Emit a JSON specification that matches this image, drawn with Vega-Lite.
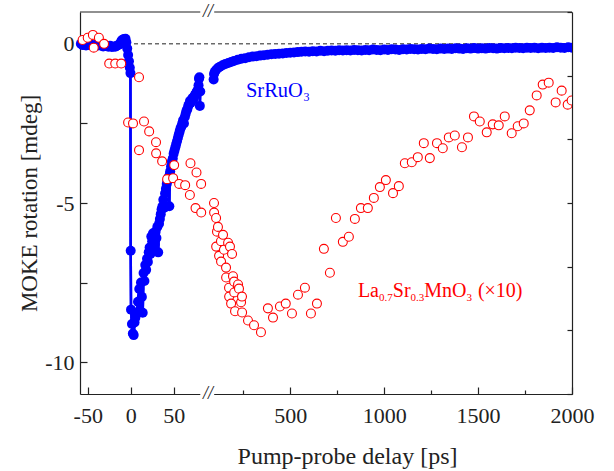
{
"$schema":"https://vega.github.io/schema/vega-lite/v6.json",
"background":"white",
"padding":{"left":18,"top":3,"right":5,"bottom":5},
"spacing":0,
"bounds":"flush",
"config":{"view":{"stroke":null},"axis":{"labelFont":"Liberation Serif","titleFont":"Liberation Serif","labelFontSize":22,"titleFontSize":23,"titleFontWeight":"normal","labelColor":"#222","titleColor":"#222","domainColor":"#222","tickColor":"#222","domainWidth":1.2,"tickWidth":1.2,"grid":false,"labelFlush":false,"labelOverlap":false}},
"datasets":{
"sro":[
{"t":-58,"v":0.0},{"t":-56,"v":-0.04},{"t":-54,"v":-0.02},{"t":-52,"v":-0.05},{"t":-50,"v":-0.01},{"t":-48,"v":-0.04},{"t":-46,"v":-0.03},{"t":-44,"v":-0.05},{"t":-42,"v":-0.06},{"t":-40,"v":-0.03},{"t":-38,"v":-0.05},{"t":-36,"v":-0.04},{"t":-34,"v":-0.06},{"t":-32,"v":-0.08},{"t":-30,"v":-0.05},{"t":-28,"v":-0.07},{"t":-26,"v":-0.09},{"t":-24,"v":-0.06},{"t":-22,"v":-0.1},{"t":-20,"v":-0.08},{"t":-18,"v":-0.09},{"t":-16,"v":-0.06},{"t":-14,"v":-0.03},{"t":-12,"v":0.0},{"t":-11,"v":0.08},{"t":-10,"v":0.12},{"t":-9,"v":0.05},{"t":-8,"v":0.15},{"t":-7,"v":0.1},{"t":-6,"v":0.16},{"t":-5,"v":0.05},{"t":-4,"v":-0.15},{"t":-3,"v":-0.35},{"t":-2,"v":-0.55},{"t":-1,"v":-0.75},{"t":-0.3,"v":-0.92},
{"t":0,"v":-6.5},{"t":0.4,"v":-8.35},{"t":1.5,"v":-8.8},{"t":2.5,"v":-9.1},{"t":3.5,"v":-9.15},{"t":4.5,"v":-8.75},{"t":5.5,"v":-8.6},{"t":7,"v":-8.45},{"t":8.5,"v":-8.1},{"t":10,"v":-7.7},{"t":11,"v":-8.4},{"t":12,"v":-7.5},{"t":13,"v":-7.95},{"t":14,"v":-8.45},{"t":15,"v":-7.2},{"t":16,"v":-7.45},{"t":17,"v":-6.95},{"t":18,"v":-7.1},{"t":19,"v":-6.75},{"t":20,"v":-6.85},{"t":21,"v":-6.55},{"t":22,"v":-6.4},{"t":23,"v":-6.6},{"t":24,"v":-6.05},{"t":25,"v":-6.2},{"t":26,"v":-5.95},{"t":27,"v":-6.5},{"t":28,"v":-6.3},{"t":29,"v":-5.9},{"t":30,"v":-6.1},{"t":31,"v":-5.75},{"t":32,"v":-6.55},{"t":33,"v":-5.65},{"t":34,"v":-5.5},{"t":35,"v":-5.35},{"t":36,"v":-5.2},{"t":37,"v":-5.1},{"t":38,"v":-4.9},{"t":39,"v":-5.15},{"t":40,"v":-4.7},{"t":41,"v":-4.55},{"t":42,"v":-4.4},{"t":43,"v":-4.3},{"t":44,"v":-4.2},{"t":45,"v":-5.1},{"t":45.5,"v":-4.1},{"t":46,"v":-4.0},{"t":47,"v":-3.85},{"t":48,"v":-3.7},{"t":49,"v":-3.6},{"t":50,"v":-3.45},{"t":51,"v":-3.35},{"t":52,"v":-3.25},{"t":53,"v":-3.15},{"t":54,"v":-3.05},{"t":55,"v":-2.95},{"t":56,"v":-2.85},{"t":57,"v":-2.75},{"t":58,"v":-2.65},{"t":59,"v":-2.6},{"t":60,"v":-2.5},{"t":61,"v":-2.4},{"t":62,"v":-2.5},{"t":63,"v":-2.3},{"t":64,"v":-2.2},{"t":65,"v":-2.1},{"t":66,"v":-2.05},{"t":67,"v":-1.95},{"t":68,"v":-1.9},{"t":69,"v":-1.8},{"t":70,"v":-1.85},{"t":71,"v":-1.75},{"t":72,"v":-1.7},{"t":73,"v":-1.75},{"t":74,"v":-1.65},{"t":75,"v":-1.6},{"t":76,"v":-1.55},{"t":77,"v":-1.5},{"t":78,"v":-1.45},{"t":79,"v":-1.3},{"t":79.5,"v":-1.1},{"t":80,"v":-1.05},{"t":80.5,"v":-1.95},{"t":81,"v":-1.5},
{"t":92,"v":-1.12},{"t":94,"v":-0.95},{"t":98,"v":-0.88},{"t":105,"v":-0.82},{"t":115,"v":-0.76},{"t":125,"v":-0.72},{"t":140,"v":-0.67},{"t":155,"v":-0.63},{"t":170,"v":-0.6},{"t":185,"v":-0.57},{"t":200,"v":-0.54},{"t":220,"v":-0.5},{"t":240,"v":-0.47},{"t":260,"v":-0.45},{"t":280,"v":-0.42},{"t":300,"v":-0.4},{"t":320,"v":-0.39},{"t":340,"v":-0.37},{"t":360,"v":-0.36},{"t":380,"v":-0.34},{"t":400,"v":-0.33},{"t":420,"v":-0.32},{"t":440,"v":-0.31},{"t":460,"v":-0.3},{"t":480,"v":-0.29},{"t":500,"v":-0.28},{"t":520,"v":-0.27},{"t":540,"v":-0.26},
{"t":560,"v":-0.25},{"t":580,"v":-0.24},{"t":600,"v":-0.25},{"t":620,"v":-0.23},{"t":640,"v":-0.24},{"t":660,"v":-0.22},{"t":680,"v":-0.23},{"t":700,"v":-0.22},{"t":720,"v":-0.21},{"t":740,"v":-0.22},{"t":760,"v":-0.2},{"t":780,"v":-0.21},{"t":800,"v":-0.2},{"t":820,"v":-0.21},{"t":840,"v":-0.19},{"t":860,"v":-0.2},{"t":880,"v":-0.21},{"t":900,"v":-0.19},{"t":920,"v":-0.2},{"t":940,"v":-0.18},{"t":960,"v":-0.19},{"t":980,"v":-0.2},{"t":1000,"v":-0.18},{"t":1020,"v":-0.19},{"t":1040,"v":-0.17},{"t":1060,"v":-0.18},{"t":1080,"v":-0.19},{"t":1100,"v":-0.17},{"t":1120,"v":-0.18},{"t":1140,"v":-0.16},{"t":1160,"v":-0.17},{"t":1180,"v":-0.18},{"t":1200,"v":-0.16},{"t":1220,"v":-0.17},{"t":1240,"v":-0.15},{"t":1260,"v":-0.16},{"t":1280,"v":-0.17},{"t":1300,"v":-0.15},{"t":1320,"v":-0.16},{"t":1340,"v":-0.15},{"t":1360,"v":-0.16},{"t":1380,"v":-0.14},{"t":1400,"v":-0.15},{"t":1420,"v":-0.16},{"t":1440,"v":-0.14},{"t":1460,"v":-0.15},{"t":1480,"v":-0.13},{"t":1500,"v":-0.15},{"t":1520,"v":-0.14},{"t":1540,"v":-0.15},{"t":1560,"v":-0.13},{"t":1580,"v":-0.14},{"t":1600,"v":-0.15},{"t":1620,"v":-0.13},{"t":1640,"v":-0.14},{"t":1660,"v":-0.13},{"t":1680,"v":-0.14},{"t":1700,"v":-0.12},{"t":1720,"v":-0.13},{"t":1740,"v":-0.14},{"t":1760,"v":-0.12},{"t":1780,"v":-0.13},{"t":1800,"v":-0.12},{"t":1820,"v":-0.14},{"t":1840,"v":-0.12},{"t":1860,"v":-0.13},{"t":1880,"v":-0.12},{"t":1900,"v":-0.13},{"t":1920,"v":-0.11},{"t":1940,"v":-0.12},{"t":1960,"v":-0.13},{"t":1980,"v":-0.11},{"t":2000,"v":-0.12}
],
"lsmo":[
{"t":-56,"v":0.12},{"t":-50,"v":0.19},{"t":-44,"v":0.28},{"t":-43,"v":-0.12},{"t":-37,"v":0.19},{"t":-31,"v":0.0},{"t":-25,"v":-0.62},{"t":-18,"v":-0.62},{"t":-11,"v":-0.62},{"t":-3,"v":-2.47},{"t":2.7,"v":-2.5},{"t":9.7,"v":-1.05},{"t":9.7,"v":-3.34},{"t":15.5,"v":-2.44},{"t":21.5,"v":-2.75},{"t":29.5,"v":-3.09},{"t":29.6,"v":-3.44},{"t":36.6,"v":-3.69},{"t":42.4,"v":-4.25},{"t":49.4,"v":-4.22},{"t":50.6,"v":-3.81},{"t":56.4,"v":-4.4},{"t":63.4,"v":-4.44},{"t":68.9,"v":-4.75},{"t":69.6,"v":-3.75},{"t":75.5,"v":-5.16},{"t":76.6,"v":-4.04},{"t":82,"v":-4.4},{"t":82.1,"v":-5.3},
{"t":94,"v":-5.0},{"t":94.5,"v":-5.3},{"t":105,"v":-5.47},{"t":110,"v":-5.9},{"t":115,"v":-5.75},{"t":105.5,"v":-6.37},{"t":121,"v":-6.66},{"t":131,"v":-6.2},{"t":131.5,"v":-6.84},{"t":142,"v":-6.0},{"t":147,"v":-6.47},{"t":158,"v":-7.03},{"t":158.5,"v":-7.34},{"t":169,"v":-6.25},{"t":174,"v":-7.66},{"t":174.5,"v":-7.94},{"t":179,"v":-6.37},{"t":185,"v":-8.16},{"t":190,"v":-6.6},{"t":195,"v":-7.3},{"t":201,"v":-7.47},{"t":201.5,"v":-7.81},{"t":206,"v":-8.4},{"t":222,"v":-7.56},{"t":227,"v":-7.69},{"t":238,"v":-8.12},{"t":243,"v":-7.94},{"t":243.5,"v":-8.44},{"t":275,"v":-8.69},{"t":307,"v":-8.84},{"t":344,"v":-9.06},{"t":381,"v":-8.31},{"t":408,"v":-8.6},{"t":445,"v":-8.25},{"t":476,"v":-8.16},{"t":509,"v":-8.47},{"t":541,"v":-7.88},{"t":578,"v":-7.66},{"t":610,"v":-8.47},{"t":642,"v":-8.16},{"t":679,"v":-6.44},{"t":711,"v":-7.19},{"t":743,"v":-5.47},{"t":780,"v":-6.22},{"t":812,"v":-6.06},{"t":844,"v":-5.5},{"t":876,"v":-5.16},{"t":913,"v":-5.16},{"t":945,"v":-4.84},{"t":977,"v":-4.5},{"t":1009,"v":-4.28},{"t":1047,"v":-4.69},{"t":1078,"v":-4.47},{"t":1110,"v":-3.75},{"t":1147,"v":-3.72},{"t":1179,"v":-3.56},{"t":1211,"v":-3.12},{"t":1243,"v":-3.59},{"t":1281,"v":-3.12},{"t":1312,"v":-3.28},{"t":1344,"v":-2.94},{"t":1376,"v":-2.88},{"t":1414,"v":-3.25},{"t":1446,"v":-2.94},{"t":1478,"v":-2.28},{"t":1509,"v":-2.44},{"t":1546,"v":-2.78},{"t":1578,"v":-2.53},{"t":1610,"v":-2.56},{"t":1642,"v":-2.28},{"t":1679,"v":-2.81},{"t":1711,"v":-2.59},{"t":1743,"v":-2.5},{"t":1775,"v":-2.09},{"t":1812,"v":-1.62},{"t":1844,"v":-1.28},{"t":1876,"v":-1.22},{"t":1913,"v":-1.84},{"t":1945,"v":-1.47},{"t":1977,"v":-1.91},{"t":1998,"v":-1.78}
]
},
"resolve":{"scale":{"x":"independent","y":"independent"},"axis":{"x":"independent","y":"independent"}},
"hconcat":[
{
"width":128,"height":382,
"data":{"values":[{}]},
"layer":[
{"data":{"name":"sro"},"transform":[{"filter":"datum.t <= 90"}],"mark":{"type":"line","color":"#0000ff","strokeWidth":2.5},
 "encoding":{"x":{"field":"t","type":"quantitative","scale":{"domain":[-59,90],"nice":false,"zero":false},"axis":{"values":[-50,0,50],"labelExpr":"'' + datum.value","tickSize":-7,"labelPadding":18,"title":null}},
 "y":{"field":"v","type":"quantitative","scale":{"domain":[-11,1],"nice":false,"zero":false},"axis":{"values":[-10,-7.5,-5,-2.5,0],"labelExpr":"datum.value % 5 === 0 ? '' + datum.value : ''","tickSize":-7,"labelPadding":13,"title":"MOKE rotation [mdeg]","titleX":-44,"titleBaseline":"alphabetic"}}}},
{"mark":{"type":"rule","color":"#222","strokeWidth":1,"strokeDash":[4,3]},"encoding":{"y":{"datum":0,"type":"quantitative"}}},
{"mark":{"type":"rule","color":"#222","strokeWidth":1.2},"encoding":{"y":{"datum":1,"type":"quantitative"}}},
{"mark":{"type":"rule","color":"white","strokeWidth":4},"encoding":{"x":{"datum":81,"type":"quantitative"},"x2":{"datum":90},"y":{"datum":1,"type":"quantitative"}}},
{"mark":{"type":"rule","color":"white","strokeWidth":4},"encoding":{"x":{"datum":81,"type":"quantitative"},"x2":{"datum":90},"y":{"datum":-11,"type":"quantitative"}}},
{"data":{"name":"sro"},"transform":[{"filter":"datum.t <= 90"}],"mark":{"type":"line","color":"#0000ff","strokeWidth":2.5},"encoding":{"x":{"field":"t","type":"quantitative"},"y":{"field":"v","type":"quantitative"}}},
{"data":{"name":"sro"},"transform":[{"filter":"datum.t <= 90"}],"mark":{"type":"circle","color":"#0000ff","opacity":1,"size":100},"encoding":{"x":{"field":"t","type":"quantitative"},"y":{"field":"v","type":"quantitative"}}},
{"data":{"name":"lsmo"},"transform":[{"filter":"datum.t <= 90"}],"mark":{"type":"point","shape":"circle","filled":false,"fill":"white","fillOpacity":1,"stroke":"#ff0000","strokeWidth":1.1,"size":80,"opacity":1},"encoding":{"x":{"field":"t","type":"quantitative"},"y":{"field":"v","type":"quantitative"}}}
]
},
{
"width":364,"height":382,
"data":{"values":[{}]},
"layer":[
{"data":{"name":"sro"},"transform":[{"filter":"datum.t > 90"}],"mark":{"type":"line","color":"#0000ff","strokeWidth":2.5,"clip":true},
 "encoding":{"x":{"field":"t","type":"quantitative","scale":{"domain":[62,2000],"nice":false,"zero":false},"axis":{"values":[250,500,750,1000,1250,1500,1750,2000],"labelExpr":"datum.value % 500 === 0 ? '' + datum.value : ''","tickSize":{"condition":{"test":"datum.value % 500 === 0","value":-7},"value":-4},"labelPadding":18,"title":"Pump-probe delay [ps]","titleFontSize":24,"titleX":139,"titleY":69,"titleBaseline":"alphabetic"}},
 "y":{"field":"v","type":"quantitative","scale":{"domain":[-11,1],"nice":false,"zero":false},"axis":{"orient":"right","values":[-11,-10,-9,-8,-7,-6,-5,-4,-3,-2,-1,0,1],"labels":false,"tickSize":-5,"title":null}}}},
{"mark":{"type":"rule","color":"#222","strokeWidth":1,"strokeDash":[4,3]},"encoding":{"y":{"datum":0,"type":"quantitative"}}},
{"mark":{"type":"rule","color":"#222","strokeWidth":1.2},"encoding":{"y":{"datum":1,"type":"quantitative"}}},
{"mark":{"type":"rule","color":"white","strokeWidth":4},"encoding":{"x":{"datum":62,"type":"quantitative"},"x2":{"datum":95},"y":{"datum":1,"type":"quantitative"}}},
{"mark":{"type":"rule","color":"white","strokeWidth":4},"encoding":{"x":{"datum":62,"type":"quantitative"},"x2":{"datum":95},"y":{"datum":-11,"type":"quantitative"}}},
{"mark":{"type":"text","text":"//","font":"Liberation Serif","fontSize":18,"fontStyle":"italic","align":"center","baseline":"middle","color":"#222"},"encoding":{"x":{"datum":62,"type":"quantitative"},"y":{"datum":1,"type":"quantitative"}}},
{"mark":{"type":"text","text":"//","font":"Liberation Serif","fontSize":18,"fontStyle":"italic","align":"center","baseline":"middle","color":"#222"},"encoding":{"x":{"datum":62,"type":"quantitative"},"y":{"datum":-11,"type":"quantitative"}}},
{"data":{"name":"sro"},"transform":[{"filter":"datum.t > 90"}],"mark":{"type":"circle","color":"#0000ff","opacity":1,"size":100,"clip":true},"encoding":{"x":{"field":"t","type":"quantitative"},"y":{"field":"v","type":"quantitative"}}},
{"data":{"name":"lsmo"},"transform":[{"filter":"datum.t > 90"}],"mark":{"type":"point","shape":"circle","filled":false,"fill":"white","fillOpacity":1,"stroke":"#ff0000","strokeWidth":1.1,"size":80,"opacity":1,"clip":true},"encoding":{"x":{"field":"t","type":"quantitative"},"y":{"field":"v","type":"quantitative"}}},
{"mark":{"type":"text","text":"SrRuO","font":"Liberation Serif","fontSize":20.5,"align":"left","baseline":"alphabetic","color":"#0000ff"},"encoding":{"x":{"datum":264,"type":"quantitative"},"y":{"datum":-1.68,"type":"quantitative"}}},
{"mark":{"type":"text","text":"3","font":"Liberation Serif","fontSize":12,"align":"left","baseline":"alphabetic","color":"#0000ff","dx":57.5,"dy":4},"encoding":{"x":{"datum":264,"type":"quantitative"},"y":{"datum":-1.68,"type":"quantitative"}}},
{"mark":{"type":"text","text":"La","font":"Liberation Serif","fontSize":20,"align":"left","baseline":"alphabetic","color":"#ff0000"},"encoding":{"x":{"datum":860,"type":"quantitative"},"y":{"datum":-7.96,"type":"quantitative"}}},
{"mark":{"type":"text","text":"0.7","font":"Liberation Serif","fontSize":11,"align":"left","baseline":"alphabetic","color":"#ff0000","dx":21.1,"dy":4},"encoding":{"x":{"datum":860,"type":"quantitative"},"y":{"datum":-7.96,"type":"quantitative"}}},
{"mark":{"type":"text","text":"Sr","font":"Liberation Serif","fontSize":20,"align":"left","baseline":"alphabetic","color":"#ff0000","dx":34.9},"encoding":{"x":{"datum":860,"type":"quantitative"},"y":{"datum":-7.96,"type":"quantitative"}}},
{"mark":{"type":"text","text":"0.3","font":"Liberation Serif","fontSize":11,"align":"left","baseline":"alphabetic","color":"#ff0000","dx":52.7,"dy":4},"encoding":{"x":{"datum":860,"type":"quantitative"},"y":{"datum":-7.96,"type":"quantitative"}}},
{"mark":{"type":"text","text":"MnO","font":"Liberation Serif","fontSize":20,"align":"left","baseline":"alphabetic","color":"#ff0000","dx":66.4},"encoding":{"x":{"datum":860,"type":"quantitative"},"y":{"datum":-7.96,"type":"quantitative"}}},
{"mark":{"type":"text","text":"3","font":"Liberation Serif","fontSize":11,"align":"left","baseline":"alphabetic","color":"#ff0000","dx":108.6,"dy":4},"encoding":{"x":{"datum":860,"type":"quantitative"},"y":{"datum":-7.96,"type":"quantitative"}}},
{"mark":{"type":"text","text":"(×10)","font":"Liberation Serif","fontSize":20,"align":"left","baseline":"alphabetic","color":"#ff0000","dx":120},"encoding":{"x":{"datum":860,"type":"quantitative"},"y":{"datum":-7.96,"type":"quantitative"}}}
]
}
]
}
